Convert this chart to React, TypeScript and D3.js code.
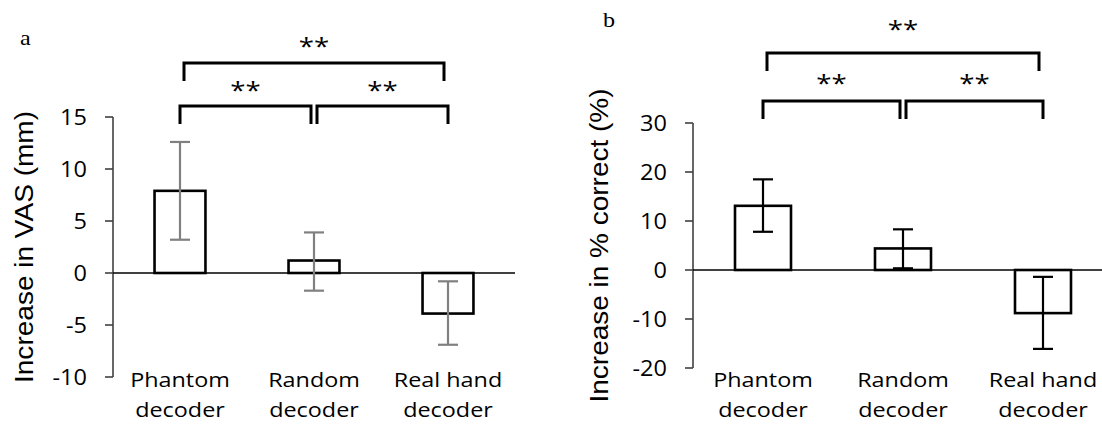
import React from "react"
import * as d3 from "d3"

// categories and values
const categories = ["Phantom decoder", "Random decoder", "Real hand decoder"]

const vasMean = [7.9, 1.2, -3.9]
const vasLow = [3.2, -1.7, -6.9]
const vasHigh = [12.6, 3.9, -0.8]
const vasTicks = [-10, -5, 0, 5, 10, 15]

const correctMean = [13.1, 4.4, -8.8]
const correctLow = [7.8, 0.35, -16.1]
const correctHigh = [18.5, 8.3, -1.4]
const correctTicks = [-20, -10, 0, 10, 20, 30]

// significance pairs: [from, to, level]
const sigPairs: [number, number, number][] = [
  [0, 1, 0],
  [1, 2, 0],
  [0, 2, 1],
]
const sigLabel = "**"

const tickFont = "'Open Sans', 'Noto Sans', sans-serif"
const titleFont = "'Liberation Sans', Arial, sans-serif"

type PanelProps = {
  letter: string
  letterX: number
  letterY: number
  title: string
  titleX: number
  titleLen: number
  mean: number[]
  low: number[]
  high: number[]
  ticks: number[]
  xRange: [number, number]
  yRange: [number, number]
  padInner: number
  zeroEnd: number
  errColor: string
  bracketY: number[]
  starY: number[]
}

function Panel(p: PanelProps) {
  const x = d3
    .scaleBand<string>()
    .domain(categories)
    .range(p.xRange)
    .paddingInner(p.padInner)
    .paddingOuter(p.padInner / 2)
  const y = d3
    .scaleLinear()
    .domain([p.ticks[0], p.ticks[p.ticks.length - 1]])
    .range(p.yRange)

  const axisX = p.xRange[0]
  const cx = (i: number) => x(categories[i])! + x.bandwidth() / 2
  const capW = 20
  const legH = 18

  const titleY = (p.yRange[0] + p.yRange[1]) / 2

  return (
    <g>
      <text
        transform={`translate(${p.letterX},${p.letterY}) scale(1.15,1)`}
        fontFamily="'Liberation Serif', 'DejaVu Serif', serif"
        fontSize={21}
      >
        {p.letter}
      </text>

      {/* y axis */}
      <line x1={axisX} x2={axisX} y1={y(p.ticks[0])} y2={y(p.ticks[p.ticks.length - 1])} stroke="#404040" strokeWidth={1.6} />
      {p.ticks.map((t) => (
        <g key={t}>
          <line x1={axisX - 8} x2={axisX} y1={y(t)} y2={y(t)} stroke="#404040" strokeWidth={1.6} />
          <text
            transform={`translate(${axisX - 26},${y(t) + 7.5}) scale(1.12,1)`}
            textAnchor="end"
            fontFamily={tickFont}
            fontSize={21}
            fill="#000"
          >
            {t}
          </text>
        </g>
      ))}
      <text
        transform={`translate(${p.titleX},${titleY}) rotate(-90)`}
        textAnchor="middle"
        fontFamily={titleFont}
        fontSize={25}
        textLength={p.titleLen}
        lengthAdjust="spacingAndGlyphs"
        fill="#000"
      >
        {p.title}
      </text>

      {/* bars */}
      {p.mean.map((v, i) => (
        <rect
          key={i}
          x={x(categories[i])}
          width={x.bandwidth()}
          y={Math.min(y(v), y(0))}
          height={Math.abs(y(v) - y(0))}
          fill="#fff"
          stroke="#000"
          strokeWidth={2.6}
        />
      ))}
      <line x1={axisX} x2={p.zeroEnd} y1={y(0)} y2={y(0)} stroke="#000" strokeWidth={1.6} />

      {/* error bars */}
      {p.mean.map((_, i) => (
        <g key={i} stroke={p.errColor} strokeWidth={2.2}>
          <line x1={cx(i)} x2={cx(i)} y1={y(p.low[i])} y2={y(p.high[i])} />
          <line x1={cx(i) - capW / 2} x2={cx(i) + capW / 2} y1={y(p.low[i])} y2={y(p.low[i])} />
          <line x1={cx(i) - capW / 2} x2={cx(i) + capW / 2} y1={y(p.high[i])} y2={y(p.high[i])} />
        </g>
      ))}

      {/* category labels */}
      {categories.map((c, i) => {
        const words = c.split(" ")
        const l1 = words.slice(0, -1).join(" ")
        const l2 = words[words.length - 1]
        return (
          <g key={c} fontFamily={tickFont} fontSize={20.5} fill="#000" textAnchor="middle">
            <text transform={`translate(${cx(i)},${387}) scale(1.14,1)`}>{l1}</text>
            <text transform={`translate(${cx(i)},${417}) scale(1.14,1)`}>{l2}</text>
          </g>
        )
      })}

      {/* significance brackets */}
      {sigPairs.map(([a, b, lvl], k) => {
        let x1 = cx(a)
        let x2 = cx(b)
        if (lvl === 0) {
          if (a === 1) x1 += 3
          if (b === 1) x2 -= 3
        } else {
          x1 += 4
          x2 -= 4
        }
        const top = p.bracketY[lvl]
        return (
          <g key={k}>
            <path
              d={`M${x1},${top + legH}V${top}H${x2}V${top + legH}`}
              fill="none"
              stroke="#000"
              strokeWidth={3}
            />
            <text
              transform={`translate(${(x1 + x2) / 2},${p.starY[lvl]}) scale(1.15,1)`}
              textAnchor="middle"
              fontFamily={tickFont}
              fontSize={24}
              fill="#000"
            >
              {sigLabel}
            </text>
          </g>
        )
      })}
    </g>
  )
}

export default function App() {
  return (
    <svg width={1102} height={424} style={{ position: "absolute", left: 0, top: 0, background: "#fff" }}>
      <Panel
        letter="a"
        letterX={20}
        letterY={45}
        title="Increase in VAS (mm)"
        titleX={33}
        titleLen={272}
        mean={vasMean}
        low={vasLow}
        high={vasHigh}
        ticks={vasTicks}
        xRange={[113, 515]}
        yRange={[377, 117]}
        padInner={0.62}
        zeroEnd={515}
        errColor="#808080"
        bracketY={[106, 63]}
        starY={[99, 55]}
      />
      <Panel
        letter="b"
        letterX={603}
        letterY={27}
        title="Increase in % correct (%)"
        titleX={608}
        titleLen={314}
        mean={correctMean}
        low={correctLow}
        high={correctHigh}
        ticks={correctTicks}
        xRange={[693, 1113]}
        yRange={[368, 123]}
        padInner={0.6}
        zeroEnd={1113}
        errColor="#000"
        bracketY={[101, 53]}
        starY={[92, 38]}
      />
    </svg>
  )
}
